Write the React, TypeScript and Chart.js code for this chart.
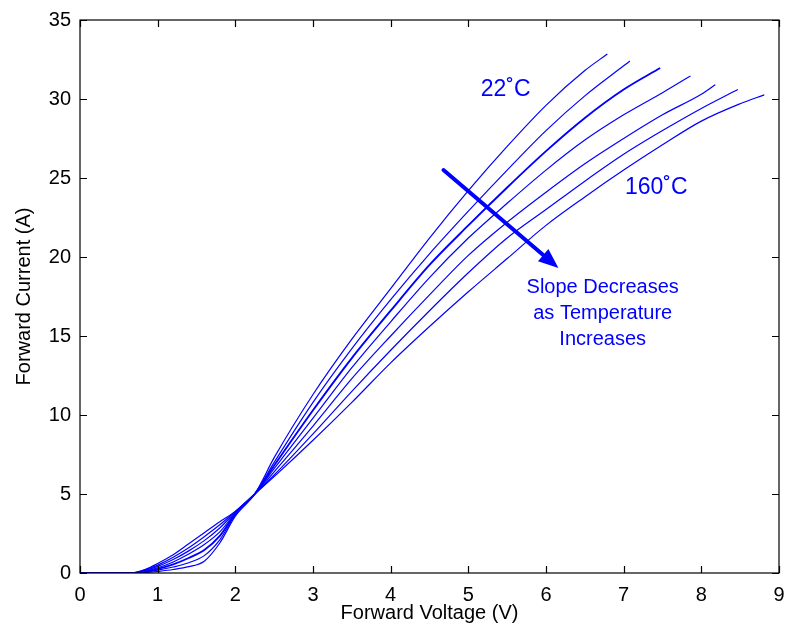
import React, { useEffect, useRef } from "react";
import { Chart, registerables } from "chart.js";
Chart.register(...registerables);

// ---- data ----
const X_TICKS = [0, 1, 2, 3, 4, 5, 6, 7, 8, 9];
const Y_TICKS = [0, 5, 10, 15, 20, 25, 30, 35];

const V_22C = [0, 0.7, 0.85, 1.0, 1.2, 1.4, 1.6, 1.8, 2.0, 2.25, 2.5, 3.0, 3.5, 4.0, 4.5, 5.0, 5.5, 6.0, 6.5, 6.79];
const I_22C = [0, 0, 0.03, 0.1, 0.22, 0.4, 0.75, 1.9, 3.6, 5.0, 7.3, 11.3, 14.8, 18.0, 21.2, 24.2, 27.0, 29.6, 31.8, 32.85];

const V_C2 = [0, 0.7, 0.85, 1.0, 1.2, 1.4, 1.6, 1.8, 2.0, 2.25, 2.5, 3.0, 3.5, 4.0, 4.5, 5.0, 5.5, 6.0, 6.5, 7.0, 7.08];
const I_C2 = [0, 0, 0.07, 0.18, 0.38, 0.65, 1.1, 2.1, 3.7, 5.0, 7.0, 10.8, 14.2, 17.3, 20.2, 22.9, 25.5, 28.0, 30.2, 32.1, 32.4];

const V_C3 = [0, 0.7, 0.85, 1.0, 1.2, 1.4, 1.6, 1.8, 2.0, 2.25, 2.5, 3.0, 3.5, 4.0, 4.5, 5.0, 5.5, 6.0, 6.5, 7.0, 7.47];
const I_C3 = [0, 0, 0.1, 0.26, 0.55, 0.95, 1.45, 2.35, 3.75, 5.0, 6.8, 10.3, 13.6, 16.6, 19.5, 22.0, 24.4, 26.7, 28.8, 30.6, 31.96];

const V_C4 = [0, 0.7, 0.85, 1.0, 1.2, 1.4, 1.6, 1.8, 2.0, 2.25, 2.5, 3.0, 3.5, 4.0, 4.5, 5.0, 5.5, 6.0, 6.5, 7.0, 7.5, 7.86];
const I_C4 = [0, 0, 0.14, 0.33, 0.7, 1.2, 1.8, 2.6, 3.8, 5.0, 6.6, 9.8, 13.0, 15.9, 18.7, 21.2, 23.4, 25.5, 27.4, 29.0, 30.4, 31.46];

const V_C5 = [0, 0.7, 0.85, 1.0, 1.2, 1.4, 1.6, 1.8, 2.0, 2.25, 2.5, 3.0, 3.5, 4.0, 4.5, 5.0, 5.5, 6.0, 6.5, 7.0, 7.5, 8.0, 8.18];
const I_C5 = [0, 0, 0.18, 0.42, 0.85, 1.4, 2.05, 2.85, 3.85, 5.0, 6.4, 9.3, 12.3, 15.0, 17.6, 20.1, 22.2, 24.1, 25.9, 27.5, 29.0, 30.3, 30.9];

const V_C6 = [0, 0.68, 0.85, 1.0, 1.2, 1.4, 1.6, 1.8, 2.0, 2.25, 2.5, 3.0, 3.5, 4.0, 4.5, 5.0, 5.5, 6.0, 6.5, 7.0, 7.5, 8.0, 8.47];
const I_C6 = [0, 0, 0.22, 0.5, 1.0, 1.6, 2.3, 3.05, 3.9, 5.0, 6.2, 8.8, 11.5, 14.1, 16.6, 19.0, 21.2, 23.0, 24.8, 26.5, 28.0, 29.4, 30.6];

const V_160C = [0, 0.65, 0.85, 1.0, 1.2, 1.4, 1.6, 1.8, 2.0, 2.25, 2.5, 3.0, 3.5, 4.0, 4.5, 5.0, 5.5, 6.0, 6.5, 7.0, 7.5, 8.0, 8.5, 8.81];
const I_160C = [0, 0, 0.25, 0.6, 1.15, 1.85, 2.55, 3.25, 3.9, 5.0, 6.1, 8.4, 10.8, 13.3, 15.6, 17.8, 19.9, 22.0, 23.8, 25.5, 27.1, 28.6, 29.7, 30.26];

const CURVES = [
  { v: V_22C, i: I_22C, w: 1.2 },
  { v: V_C2, i: I_C2, w: 1.2 },
  { v: V_C3, i: I_C3, w: 1.9 },
  { v: V_C4, i: I_C4, w: 1.2 },
  { v: V_C5, i: I_C5, w: 1.2 },
  { v: V_C6, i: I_C6, w: 1.2 },
  { v: V_160C, i: I_160C, w: 1.2 },
];

// annotation anchors in data units
const ARROW_FROM = { x: 4.68, y: 25.5 };
const ARROW_TO = { x: 6.16, y: 19.3 };
const LABEL_LOW = { x: 5.48, y: 30.6, text: "22˚C" };
const LABEL_HIGH = { x: 7.42, y: 24.4, text: "160˚C" };
const NOTE_POS = { x: 6.73, y: 18.1 };
const NOTE_LINES = ["Slope Decreases", "as Temperature", "Increases"];

const BLUE = "#0000ff";
const FONT = "'Liberation Sans', Arial, Helvetica, sans-serif";

const framePlugin = {
  id: "frameTicks",
  afterDraw(chart: any) {
    const { ctx, chartArea: a, scales } = chart;
    const xs = scales.x, ys = scales.y;
    ctx.save();
    ctx.strokeStyle = "#000";
    ctx.lineWidth = 1.2;
    ctx.strokeRect(a.left, a.top, a.right - a.left, a.bottom - a.top);
    const L = 7;
    ctx.beginPath();
    X_TICKS.forEach((t) => {
      const px = Math.round(xs.getPixelForValue(t)) + 0.5;
      ctx.moveTo(px, a.bottom); ctx.lineTo(px, a.bottom - L);
      ctx.moveTo(px, a.top); ctx.lineTo(px, a.top + L);
    });
    Y_TICKS.forEach((t) => {
      const py = Math.round(ys.getPixelForValue(t)) + 0.5;
      ctx.moveTo(a.left, py); ctx.lineTo(a.left + L, py);
      ctx.moveTo(a.right, py); ctx.lineTo(a.right - L, py);
    });
    ctx.stroke();
    ctx.restore();
  },
  afterDatasetsDraw(chart: any) {
    const { ctx, scales } = chart;
    const xs = scales.x, ys = scales.y;
    ctx.save();
    // arrow
    const x1 = xs.getPixelForValue(ARROW_FROM.x), y1 = ys.getPixelForValue(ARROW_FROM.y);
    const x2 = xs.getPixelForValue(ARROW_TO.x), y2 = ys.getPixelForValue(ARROW_TO.y);
    const ang = Math.atan2(y2 - y1, x2 - x1);
    const head = 20, half = 8;
    const bx = x2 - head * Math.cos(ang), by = y2 - head * Math.sin(ang);
    ctx.strokeStyle = BLUE;
    ctx.fillStyle = BLUE;
    ctx.lineWidth = 4;
    ctx.lineCap = "round";
    ctx.beginPath();
    ctx.moveTo(x1, y1);
    ctx.lineTo(bx, by);
    ctx.stroke();
    ctx.beginPath();
    ctx.moveTo(x2, y2);
    ctx.lineTo(bx + half * Math.sin(ang), by - half * Math.cos(ang));
    ctx.lineTo(bx - half * Math.sin(ang), by + half * Math.cos(ang));
    ctx.closePath();
    ctx.fill();
    // labels
    ctx.textAlign = "center";
    ctx.textBaseline = "middle";
    ctx.font = `23px ${FONT}`;
    ctx.fillText(LABEL_LOW.text, xs.getPixelForValue(LABEL_LOW.x), ys.getPixelForValue(LABEL_LOW.y));
    ctx.fillText(LABEL_HIGH.text, xs.getPixelForValue(LABEL_HIGH.x), ys.getPixelForValue(LABEL_HIGH.y));
    ctx.font = `20px ${FONT}`;
    const nx = xs.getPixelForValue(NOTE_POS.x), ny = ys.getPixelForValue(NOTE_POS.y);
    NOTE_LINES.forEach((s, k) => ctx.fillText(s, nx, ny + k * 26));
    ctx.restore();
  },
};

export default function App() {
  const ref = useRef<HTMLCanvasElement | null>(null);
  useEffect(() => {
    document.body.style.margin = "0";
    const canvas = ref.current!;
    const chart = new Chart(canvas, {
      type: "scatter",
      data: {
        datasets: CURVES.map((c) => ({
          data: c.v.map((v, k) => ({ x: v, y: c.i[k] })),
          showLine: true,
          borderColor: BLUE,
          backgroundColor: BLUE,
          borderWidth: c.w,
          pointRadius: 0,
          tension: 0.3,
          cubicInterpolationMode: "monotone" as const,
        })),
      },
      options: {
        animation: false,
        responsive: false,
        devicePixelRatio: 1,
        layout: { padding: { top: 20, right: 6, left: 0, bottom: 0 } },
        plugins: { legend: { display: false }, tooltip: { enabled: false } },
        scales: {
          x: {
            type: "linear",
            min: 0,
            max: 9,
            afterFit: (s: any) => { s.height = 59; s.paddingLeft = 0; s.paddingRight = 0; },
            afterBuildTicks: (s: any) => { s.ticks = X_TICKS.map((v) => ({ value: v })); },
            grid: { display: false, drawTicks: false },
            border: { display: false },
            ticks: { padding: 10, color: "#000", font: { family: FONT, size: 20 }, maxRotation: 0 },
            title: { display: true, text: "Forward Voltage (V)", color: "#000", font: { family: FONT, size: 20 }, padding: { top: 0, bottom: 7 } },
          },
          y: {
            type: "linear",
            min: 0,
            max: 35,
            afterFit: (s: any) => { s.width = 80; s.paddingTop = 0; s.paddingBottom = 0; },
            afterBuildTicks: (s: any) => { s.ticks = Y_TICKS.map((v) => ({ value: v })); },
            grid: { display: false, drawTicks: false },
            border: { display: false },
            ticks: { padding: 9, color: "#000", font: { family: FONT, size: 20 } },
            title: { display: true, text: "Forward Current (A)", color: "#000", font: { family: FONT, size: 20 }, padding: { top: 12, bottom: 0 } },
          },
        },
      },
      plugins: [framePlugin],
    });
    return () => chart.destroy();
  }, []);
  return (
    <div style={{ width: 785, height: 632, background: "#fff" }}>
      <canvas ref={ref} width={785} height={632} style={{ display: "block" }} />
    </div>
  );
}
